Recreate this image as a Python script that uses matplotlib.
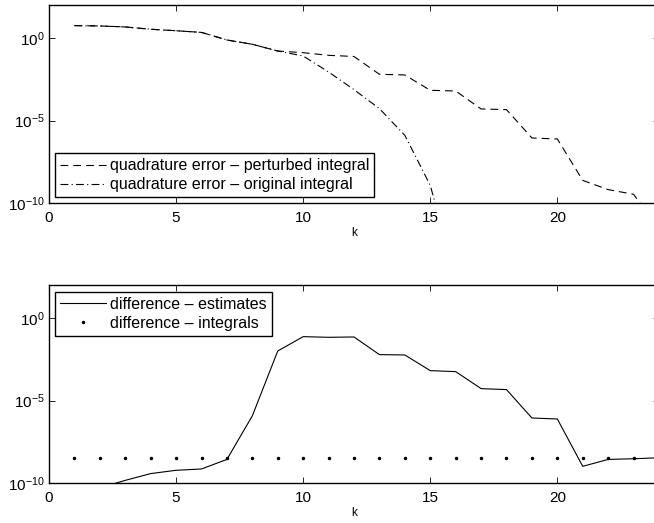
import numpy as np
import matplotlib
matplotlib.use('Agg')
from matplotlib import pyplot as plt
from matplotlib.ticker import NullLocator, FixedLocator

plt.rcParams['font.family'] = ['Liberation Sans', 'DejaVu Sans']
plt.rcParams['font.size'] = 11

# k = 1..24, values read as log10 from the picture
k = np.arange(1, 25)
log_err_perturbed = [0.75, 0.73, 0.67, 0.53, 0.44, 0.34, -0.12, -0.38, -0.79, -0.89,
                     -1.05, -1.12, -2.2, -2.24, -3.17, -3.21, -4.3, -4.34, -6.06, -6.12,
                     -8.63, -9.19, -9.47, -11.6]
log_err_original = [0.75, 0.73, 0.67, 0.53, 0.44, 0.34, -0.12, -0.38, -0.79, -1.09,
                    -2.06, -3.13, -4.28, -5.9, -8.93, -14.5, -15.2, -15.0, -15.4, -15.1,
                    -15.3, -15.0, -15.2, -15.1]
log_diff_estimates = [-10.6, -10.3, -9.84, -9.43, -9.23, -9.15, -8.57, -5.93, -2.0, -1.13,
                      -1.17, -1.15, -2.22, -2.24, -3.19, -3.25, -4.28, -4.34, -6.06, -6.12,
                      -8.99, -8.57, -8.53, -8.47]
log_diff_integrals = [-8.46] * 24

W, H = 654, 523
fig = plt.figure(figsize=(W / 100, H / 100), dpi=100)


def setup(ax):
    ax.set_yscale('log')
    ax.set_xlim(0, 24)
    ax.set_ylim(1e-10, 1e2)
    ax.xaxis.set_major_locator(FixedLocator([0, 5, 10, 15, 20]))
    ax.yaxis.set_major_locator(FixedLocator([1e-10, 1e-5, 1e0]))
    ax.yaxis.set_minor_locator(NullLocator())
    ax.tick_params(direction='in', top=True, right=True, length=4.5, width=0.6)
    ax.tick_params(axis='x', pad=6)
    ax.tick_params(axis='y', pad=3)
    for s in ax.spines.values():
        s.set_linewidth(1.0)
    ax.set_xlabel('k', fontsize=8.5, labelpad=1)


def legend(ax, **kw):
    leg = ax.legend(borderaxespad=0, handlelength=2.9, handletextpad=0.25,
                    labelspacing=0.25, borderpad=0.3, fancybox=False,
                    framealpha=1, edgecolor='black', fontsize=11.5, **kw)
    leg.get_frame().set_linewidth(1.0)
    return leg


left = 49 / W
width = 610 / W
h = 198 / H

ax1 = fig.add_axes([left, (H - 203) / H, width, h])
setup(ax1)
ax1.plot(k, 10.0 ** np.array(log_err_perturbed), color='black', lw=0.8,
         linestyle=(0, (7, 4.5)), label='quadrature error \u2013 perturbed integral')
ax1.plot(k, 10.0 ** np.array(log_err_original), color='black', lw=0.8,
         linestyle=(0, (7, 3, 1, 3)), label='quadrature error \u2013 original integral')
legend(ax1, loc='lower left', bbox_to_anchor=(6 / 610, 6 / 198))

ax2 = fig.add_axes([left, (H - 483) / H, width, h])
setup(ax2)
ax2.plot(k, 10.0 ** np.array(log_diff_estimates), color='black', lw=0.8,
         label='difference \u2013 estimates')
ax2.plot(k, 10.0 ** np.array(log_diff_integrals), color='black', linestyle='none',
         marker='.', markersize=3, label='difference \u2013 integrals')
legend(ax2, loc='upper left', bbox_to_anchor=(6 / 610, 1 - 7 / 198))

plt.savefig('out.png', dpi=100)
